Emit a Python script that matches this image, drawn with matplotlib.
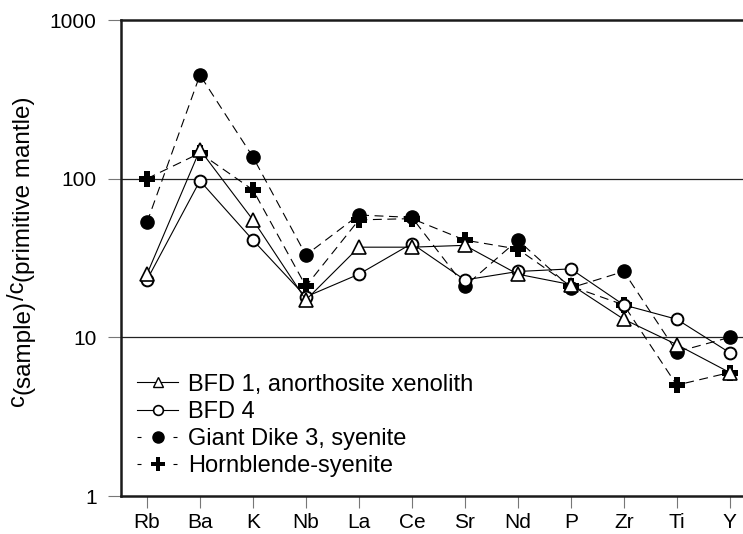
import matplotlib
matplotlib.use('Agg')
import matplotlib.pyplot as plt
from matplotlib.lines import Line2D

plt.rcParams['font.family'] = ['Liberation Sans', 'DejaVu Sans']

W, H = 743, 534

# Spurenelemente, normiert auf primitiven Mantel
elements = ['Rb', 'Ba', 'K', 'Nb', 'La', 'Ce', 'Sr', 'Nd', 'P', 'Zr', 'Ti', 'Y']
bfd1 = [25, 152, 55, 17.2, 37, 37, 38, 25, 21.5, 13, 9.0, 6.0]
bfd4 = [23, 97, 41, 18, 25, 39, 23, 26, 27, 16, 13, 8.0]
giant_dike3 = [53, 450, 137, 33, 59, 57, 21, 41, 20.5, 26, 8.1, 10]
hornblende_syenite = [100, 145, 85, 21, 55, 56, 41, 36, 21, 16, 5.0, 6.0]

labels = ['BFD 1, anorthosite xenolith', 'BFD 4',
          'Giant Dike 3, syenite', 'Hornblende-syenite']

fig = plt.figure(figsize=(W / 100, H / 100), dpi=100)
ax = fig.add_axes([121 / W, 38 / H, 622 / W, 476 / H])

x = list(range(len(elements)))
dash = (8, 5)

# unten zuerst zeichnen, damit BFD 1 oben liegt
ax.plot(x, hornblende_syenite, color='black', lw=0.8, dashes=dash,
        marker='P', markersize=11, markerfacecolor='black',
        markeredgecolor='black', markeredgewidth=0, zorder=3)
ax.plot(x, giant_dike3, color='black', lw=0.8, dashes=dash,
        marker='o', markersize=9.5, markerfacecolor='black',
        markeredgecolor='black', zorder=4)
ax.plot(x, bfd4, color='black', lw=0.8,
        marker='o', markersize=8.5, markerfacecolor='white',
        markeredgecolor='black', markeredgewidth=1.4, zorder=5)
ax.plot(x, bfd1, color='black', lw=0.8,
        marker='^', markersize=10, markerfacecolor='white',
        markeredgecolor='black', markeredgewidth=1.2, zorder=6)

ax.set_yscale('log')
ax.set_ylim(1, 1000)
ax.set_xlim(-0.49, 11.25)
ax.set_yticks([1, 10, 100, 1000])
ax.set_yticklabels(['1', '10', '100', '1000'])
ax.minorticks_off()
ax.set_xticks(x)
ax.set_xticklabels(elements)

for v in [10, 100]:
    ax.axhline(v, color='#222222', lw=0.9, zorder=1)

ax.spines['right'].set_visible(False)
for s in ['left', 'bottom', 'top']:
    ax.spines[s].set_linewidth(1.8)
    ax.spines[s].set_color('#1a1a1a')

ax.tick_params(axis='y', length=9.5, width=0.8, color='#777777',
               pad=8, labelsize=15)
ax.tick_params(axis='x', length=8.5, width=0.8, color='#777777',
               pad=4, labelsize=15)

# Achsentitel aus Einzelteilen, Indizes fast in voller Groesse
renderer = fig.canvas.get_renderer()
parts = [('c', 17, 0), ('(sample)', 17.5, 6), ('/c', 17, 0),
         ('(primitive mantle)', 17.5, 6)]
texts = []
for s, fs, shift in parts:
    t = fig.text(0, 0, s, rotation=90, rotation_mode='anchor',
                 ha='left', va='baseline', fontsize=fs)
    texts.append((t, shift))
lengths = [t.get_window_extent(renderer).height for t, _ in texts]
y0 = (H - 251) - sum(lengths) / 2
base_x = 24
for (t, shift), ln in zip(texts, lengths):
    t.set_position(((base_x + shift) / W, y0 / H))
    y0 += ln

# Legende mit kleineren Symbolen
handles = [
    Line2D([], [], color='black', lw=0.8, marker='^', markersize=7.5,
           markerfacecolor='white', markeredgecolor='black'),
    Line2D([], [], color='black', lw=0.8, marker='o', markersize=7,
           markerfacecolor='white', markeredgecolor='black', markeredgewidth=1.2),
    Line2D([], [], color='black', lw=0.8, dashes=(3.6, 28.8), marker='o',
           markersize=8, markerfacecolor='black'),
    Line2D([], [], color='black', lw=0.8, dashes=(3.6, 28.8), marker='P',
           markersize=9.5, markerfacecolor='black', markeredgewidth=0),
]
ax.legend(handles, labels, loc='center left', bbox_to_anchor=(0.0257, 0.148),
          frameon=False, fontsize=17, handlelength=1.74, handletextpad=0.42,
          labelspacing=0.22, borderaxespad=0, borderpad=0)

plt.savefig('out.png', dpi=100, facecolor='white')
